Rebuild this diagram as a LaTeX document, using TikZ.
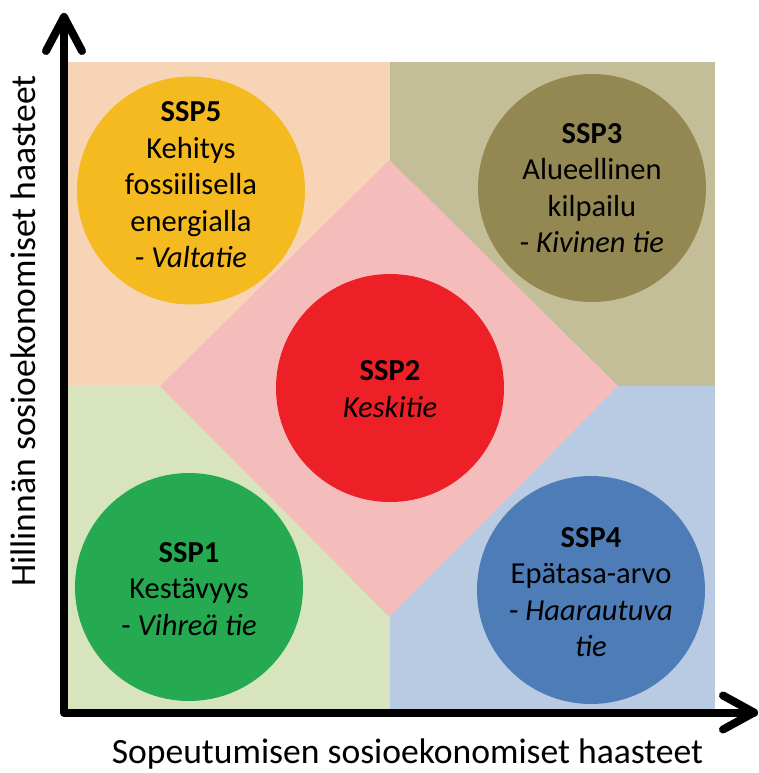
\documentclass[tikz,border=0pt]{standalone}
\usepackage{fontspec}
\setmainfont{Carlito}
\usetikzlibrary{calc}
\definecolor{qpeach}{HTML}{F8D4B6}
\definecolor{qolive}{HTML}{C3BD98}
\definecolor{qgreen}{HTML}{D7E4BE}
\definecolor{qblue}{HTML}{B8CBE3}
\definecolor{qpink}{HTML}{F4BDBC}
\definecolor{cyellow}{HTML}{F5BA1F}
\definecolor{colive}{HTML}{948852}
\definecolor{cred}{HTML}{EE2027}
\definecolor{cgreen}{HTML}{25A951}
\definecolor{cblue}{HTML}{4D7CB6}
\begin{document}
\begin{tikzpicture}[x=1pt,y=-1pt,
  disc/.style={circle, minimum size=228pt, inner sep=0pt, draw=none},
  txt/.style={align=center, inner sep=0pt, font=\fontsize{30.5}{36.5}\selectfont},
  axislabel/.style={inner sep=0pt, anchor=base, font=\fontsize{35.6}{40}\selectfont},
  axisline/.style={line width=8pt, line cap=round, line join=round, black}]
\useasboundingbox (0,0) rectangle (758,773);
% quadrants
\fill[qpeach] (64,62.5) rectangle (389.5,386);
\fill[qolive] (389.5,62.5) rectangle (714.5,386);
\fill[qgreen] (64,386) rectangle (389.5,712);
\fill[qblue] (389.5,386) rectangle (714.5,712);
% diamond
\fill[qpink] (389.5,160) -- (618,386) -- (389.5,617) -- (160,386) -- cycle;
% circles
\node[disc, fill=cyellow] (c5) at (191,190.5) {};
\node[disc, fill=colive] (c3) at (592,188) {};
\node[disc, fill=cred] (c2) at (390,388) {};
\node[disc, fill=cgreen] (c1) at (189,587) {};
\node[disc, fill=cblue] (c4) at (591,590) {};
% texts
\node[txt] (t5) at (191,185) {\textbf{SSP5}\\Kehitys\\fossiilisella\\energialla\\- \textit{Valtatie}};
\node[txt] (t3) at (592,188) {\textbf{SSP3}\\Alueellinen\\kilpailu\\- \textit{Kivinen tie}};
\node[txt] (t2) at (390,389) {\textbf{SSP2}\\\textit{Keskitie}};
\node[txt] (t1) at (189,589) {\textbf{SSP1}\\Kestävyys\\- \textit{Vihreä tie}};
\node[txt] (t4) at (591,592) {\textbf{SSP4}\\Epätasa-arvo\\- \textit{Haarautuva}\\\textit{tie}};
% axes
\coordinate (O) at (64,712.5);
\coordinate (Y) at (64,17);
\coordinate (X) at (754,712.5);
\draw[axisline] (Y) -- (O) -- (X);
\draw[axisline] ($(Y)+(-18,34)$) -- (Y) -- ($(Y)+(18,34)$);
\draw[axisline] ($(X)+(-31,-17)$) -- (X) -- ($(X)+(-31,17)$);
% axis labels
\node[axislabel] (xl) at (407.5,763.5) {Sopeutumisen sosioekonomiset haasteet};
\node[axislabel, rotate=90] (yl) at (35,331) {Hillinnän sosioekonomiset haasteet};
\end{tikzpicture}
\end{document}
